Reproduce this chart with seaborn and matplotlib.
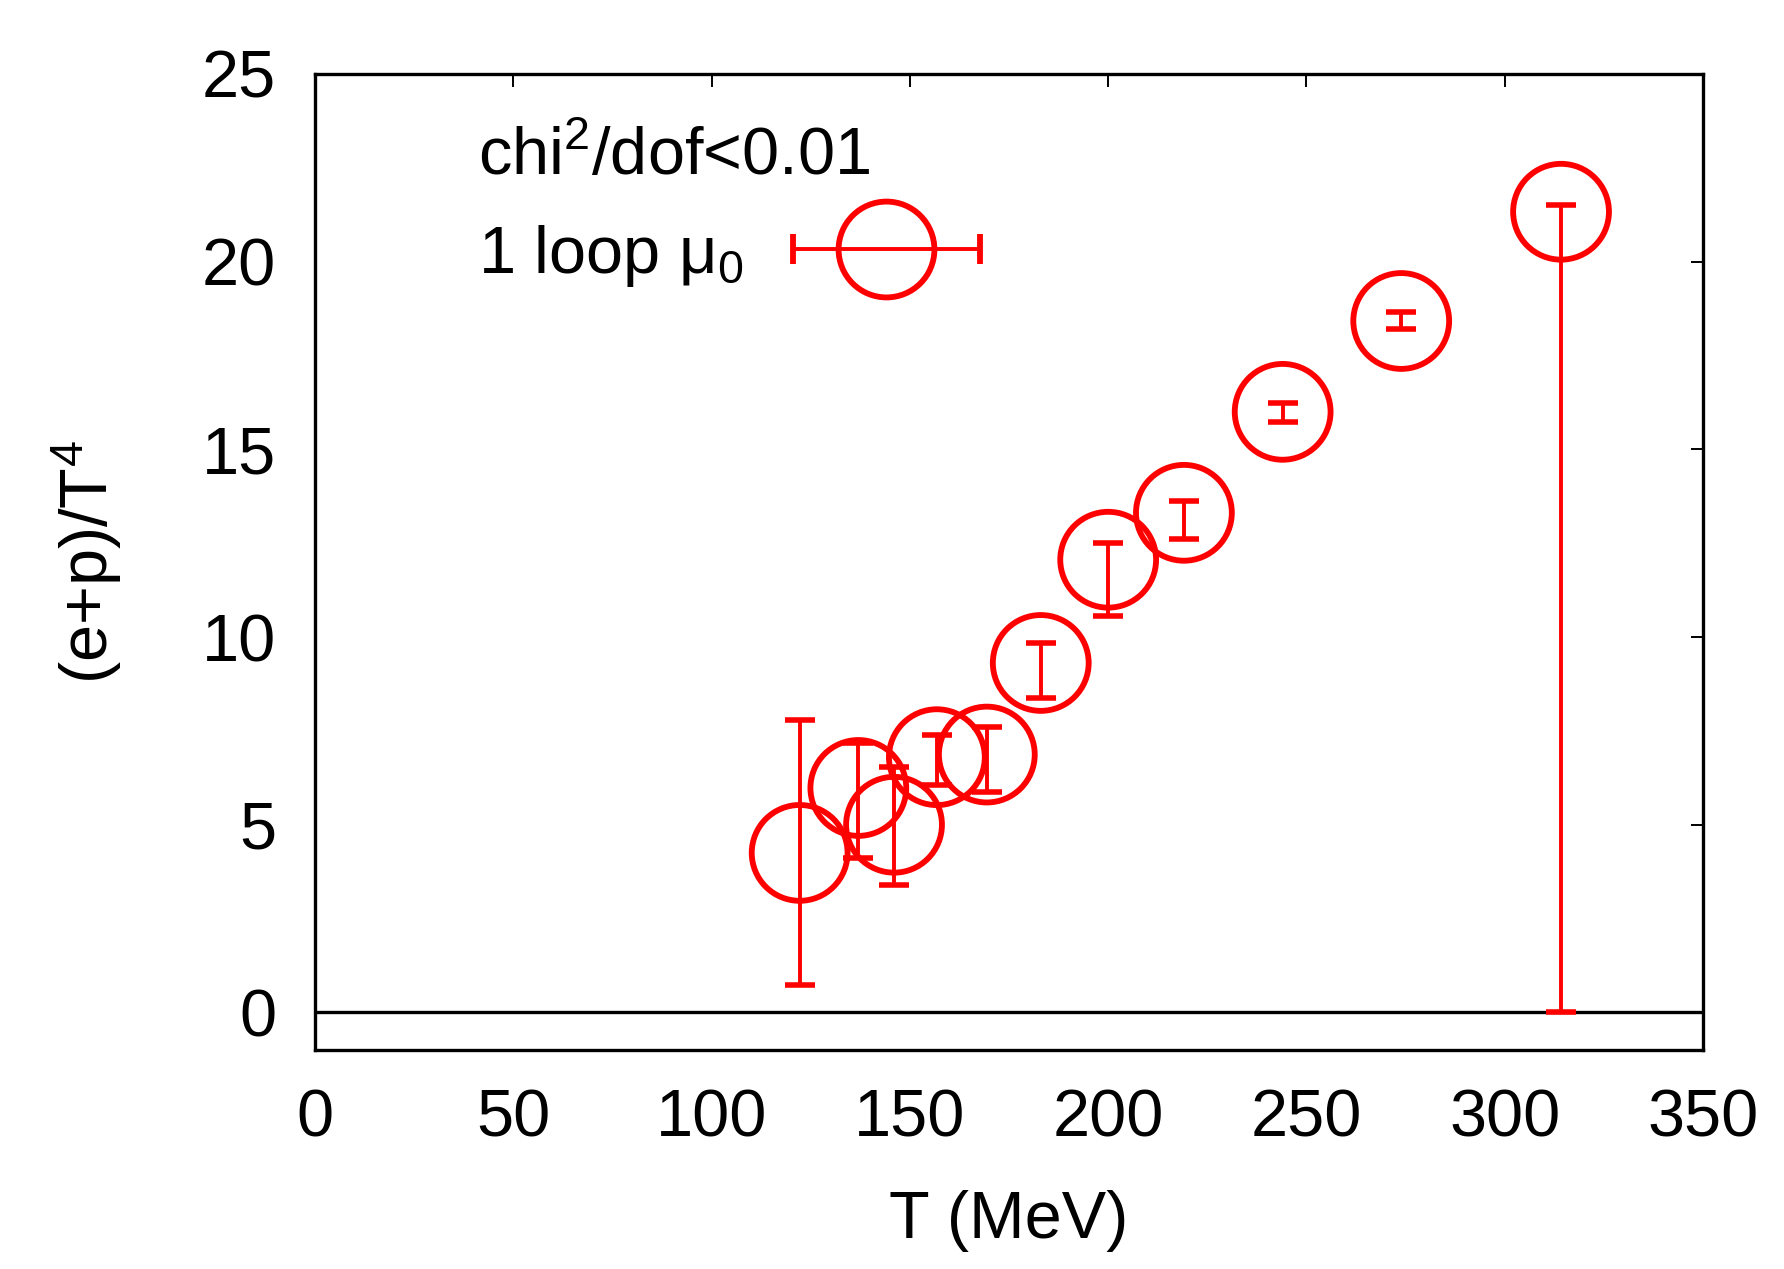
import numpy as np
import matplotlib
matplotlib.use("Agg")
import matplotlib.pyplot as plt
import seaborn as sns
from matplotlib.container import ErrorbarContainer
from matplotlib.legend_handler import HandlerErrorbar

# ---- data ----
T_MeV = [122.2, 137.0, 146.0, 156.8, 169.4, 183.0, 200.0, 219.1, 244.0, 273.9, 314.2]
ep_T4 = [4.25, 5.98, 5.00, 6.80, 6.87, 9.31, 12.06, 13.31, 16.00, 18.42, 21.33]
err_low_bound = [0.73, 4.12, 3.40, 6.06, 5.88, 8.38, 10.56, 12.62, 15.73, 18.20, 0.00]
err_high_bound = [7.80, 7.18, 6.55, 7.39, 7.60, 9.84, 12.50, 13.63, 16.23, 18.67, 21.52]
x_ticks = [0, 50, 100, 150, 200, 250, 300, 350]
y_ticks = [0, 5, 10, 15, 20, 25]
legend_title = "chi$^{2}$/dof<0.01"
series_label = "1 loop μ$_{0}$"

sns.set_theme(style="white")
plt.rcParams['font.family'] = ['Liberation Sans', 'DejaVu Sans']
plt.rcParams['mathtext.fontset'] = 'custom'
plt.rcParams['mathtext.rm'] = 'Liberation Sans'
plt.rcParams['mathtext.it'] = 'Liberation Sans'
plt.rcParams['mathtext.default'] = 'regular'
plt.rcParams['text.color'] = 'black'
plt.rcParams['axes.labelcolor'] = 'black'
plt.rcParams['xtick.color'] = 'black'
plt.rcParams['ytick.color'] = 'black'

fig = plt.figure(figsize=(8.92, 6.345), dpi=200)
ax = fig.add_axes([0.1766, 0.1726, 0.7780, 0.7691])

y = np.array(ep_T4)
lo = y - np.array(err_low_bound)
hi = np.array(err_high_bound) - y

ax.axhline(0, color='black', lw=1.2, zorder=1)

ax.errorbar(T_MeV, ep_T4, yerr=[lo, hi], fmt='none', ecolor='red',
            elinewidth=1.4, capsize=5.5, capthick=2.0, zorder=3)
sns.scatterplot(x=T_MeV, y=ep_T4, ax=ax, marker='o', s=1190,
                facecolor='none', edgecolor='red', linewidth=2.1, zorder=4,
                legend=False)

# legend handle (horizontal error bar sample as in the reference)
h = ax.errorbar([np.nan], [np.nan], xerr=[[np.nan]], fmt='o', color='red',
                mfc='none', mec='red', ms=34.5, mew=2.1, elinewidth=1.4,
                capsize=5.5, capthick=1.4, label=series_label)

leg = ax.legend(handles=[h], labels=[series_label], title=legend_title,
                loc='upper left', bbox_to_anchor=(0.098, 0.973),
                frameon=False, markerfirst=False, fontsize=24,
                title_fontsize=24, handlelength=3.4, handletextpad=0.45,
                handler_map={ErrorbarContainer: HandlerErrorbar(xerr_size=1.4)},
                alignment='left', borderaxespad=0)
leg.get_title().set_color('black')
for t in leg.get_texts():
    t.set_color('black')

ax.set_xlim(0, 350)
ax.set_ylim(-1, 25)
ax.set_xticks(x_ticks)
ax.set_yticks(y_ticks)
ax.tick_params(axis='both', which='major', direction='in', length=4.5,
               width=0.7, color='black', labelcolor='black', labelsize=24,
               top=True, right=True)
ax.tick_params(axis='y', pad=14)
ax.tick_params(axis='x', pad=14)
for sp in ax.spines.values():
    sp.set_color('black')
    sp.set_linewidth(1.2)

ax.set_xlabel("T (MeV)", fontsize=24, labelpad=14, color='black')
ax.set_ylabel("(e+p)/T$^{4}$", fontsize=24, labelpad=28, color='black')

fig.savefig("out.png", dpi=200, facecolor='white')
